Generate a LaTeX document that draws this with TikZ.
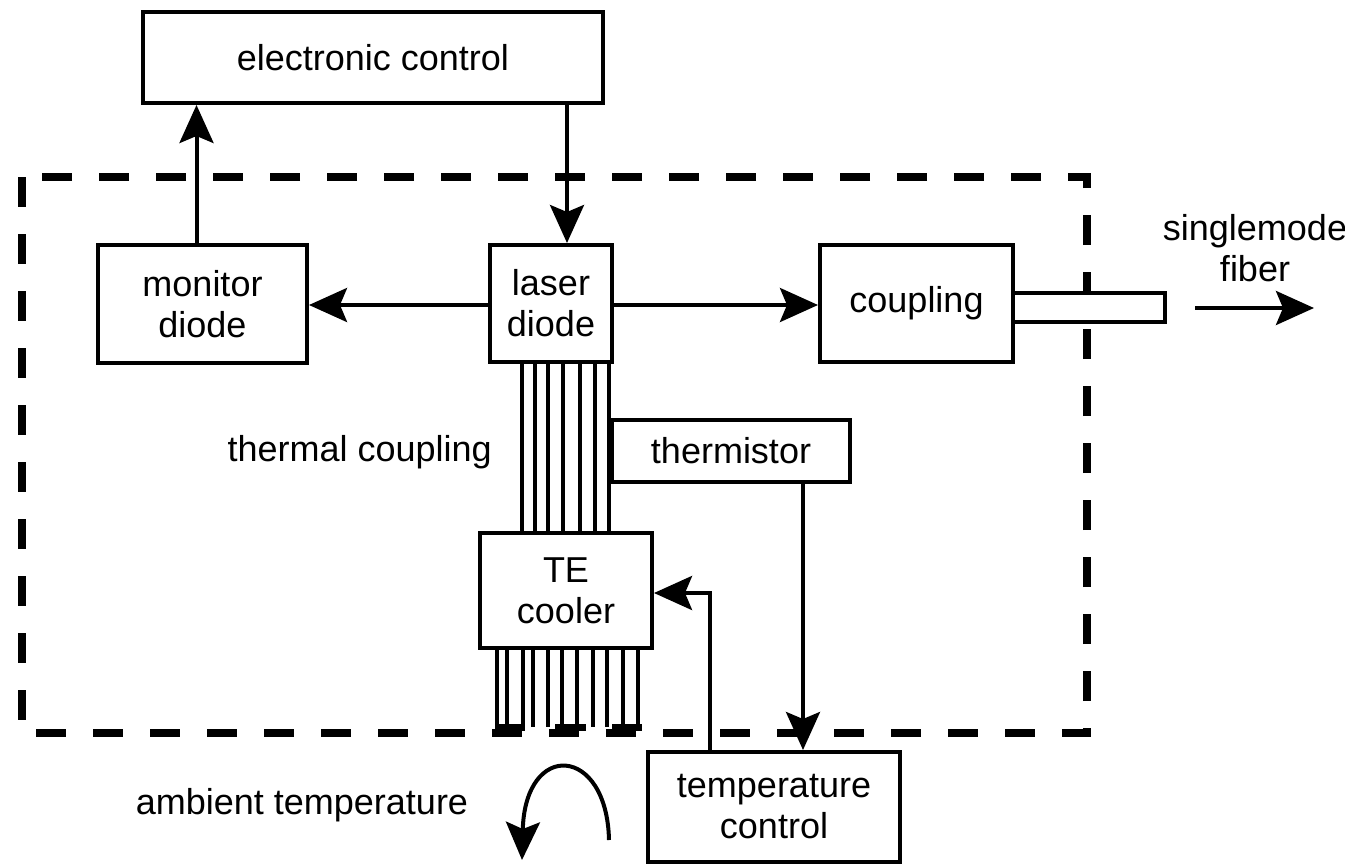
\documentclass[tikz,border=0pt]{standalone}
\usepackage{fontspec}
\setmainfont{Liberation Sans}
\usetikzlibrary{arrows.meta}
\begin{document}
\begin{tikzpicture}[x=1pt,y=-1pt,
  box/.style={draw, line width=4pt, align=center, inner sep=0pt, font=\fontsize{36}{41}\selectfont},
  lbl/.style={align=center, inner sep=0pt, font=\fontsize{36}{41}\selectfont},
  conn/.style={line width=4pt, -{Stealth[length=38pt,width=34pt,inset=7pt]}},
  bar/.style={line width=4pt},
  frame/.style={line width=8pt, dash pattern=on 30pt off 27pt}]
\useasboundingbox (0,0) rectangle (1345,865);
% dashed enclosure
\draw[frame] (22,177) rectangle (1087,733);
% boxes
\node[box, minimum width=460pt, minimum height=91pt] (ec) at (373,57.5) {electronic control};
\node[box, minimum width=209pt, minimum height=118pt] (md) at (202.5,304) {monitor\\diode};
\node[box, minimum width=122pt, minimum height=117pt] (ld) at (551,303.5) {laser\\diode};
\node[box, minimum width=193pt, minimum height=117pt] (cp) at (916.5,303.5) {coupling};
\node[box, fill=white, minimum width=152pt, minimum height=29pt] (fb) at (1089,307.5) {};
\node[box, minimum width=238pt, minimum height=62pt] (th) at (731,451) {thermistor};
\node[box, minimum width=172pt, minimum height=115pt] (te) at (566,590.5) {TE\\cooler};
\node[box, minimum width=252pt, minimum height=110pt] (tc) at (774,807) {temperature\\control};
% labels
\node[lbl] (sf) at (1255,248) {singlemode\\fiber};
\node[lbl, anchor=east] (tcl) at (492,452) {thermal coupling};
\node[lbl] (amb) at (302,805) {ambient temperature};
% thermal coupling bars (top)
\foreach \x in {522,535,548,563,580,595,609}
  \draw[bar] (\x,362) -- (\x,533);
% heat sink bars (bottom)
\foreach \x in {497,507,523,533,548,562,577,593,607,623,638}
  \draw[bar] (\x,648) -- (\x,727);
\draw[line width=7pt] (495,727) -- (525,727);
\draw[line width=7pt] (555,727) -- (586,727);
\draw[line width=7pt] (612,727) -- (642,727);
% connectors
\coordinate (fa) at (1195,308);
\coordinate (fz) at (1314,308);
\draw[conn] (fa) -- (fz);
\draw[conn] (ec.south -| 567,0) -- (ld.north -| 567,0);
\draw[conn] (md.north) ++(-6,0) coordinate (mdn) -- (mdn |- ec.south);
\draw[conn] (ld.west |- 0,305) -- (md.east |- 0,305);
\draw[conn] (ld.east |- 0,305) -- (cp.west |- 0,305);
\draw[conn] (th.south -| 803,0) -- (tc.north -| 803,0);
\draw[conn] (tc.north -| 710,0) -- (710,593) -- (te.east |- 0,593);
% ambient curved arrow
\coordinate (a1) at (609,840);
\coordinate (a2) at (522,860);
\draw[conn] (a1) .. controls (607,745) and (525,740) .. (a2);
\end{tikzpicture}
\end{document}
